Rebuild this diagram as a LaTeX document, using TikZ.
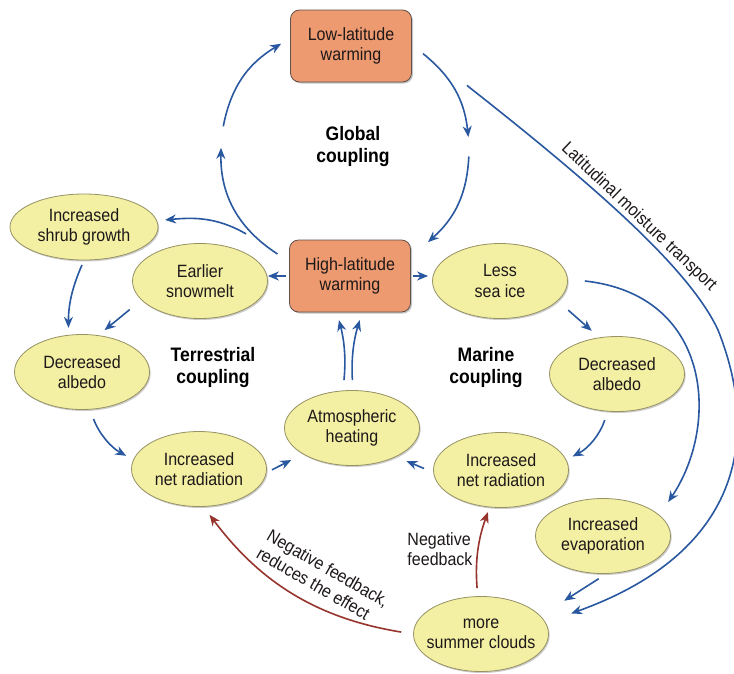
\documentclass[tikz,border=0pt]{standalone}
\usepackage{fontspec}
\setmainfont{Liberation Sans}[FakeStretch=0.9]
\usetikzlibrary{calc,shapes.geometric,shadows,arrows.meta,positioning}

\definecolor{warmfill}{RGB}{238,154,112}
\definecolor{warmline}{RGB}{95,80,75}
\definecolor{effectfill}{RGB}{243,239,163}
\definecolor{effectline}{RGB}{150,146,100}
\definecolor{flowblue}{RGB}{42,88,160}
\definecolor{dampred}{RGB}{150,52,45}
\definecolor{ink}{RGB}{30,25,25}

\tikzset{
  warmbox/.style={rectangle, rounded corners=9pt, draw=warmline, line width=0.8pt,
    fill=warmfill, minimum width=121pt, minimum height=72pt, align=center, text=ink,
    drop shadow={shadow xshift=1.5pt, shadow yshift=-1.5pt, opacity=0.45}},
  effect/.style={ellipse, draw=effectline, line width=0.8pt, fill=effectfill,
    minimum width=135pt, minimum height=75pt, inner xsep=-20pt, inner ysep=0pt,
    align=center, text=ink,
    drop shadow={shadow xshift=1.2pt, shadow yshift=-1.5pt, opacity=0.4}},
  coupling/.style={font=\fontsize{19.5}{22}\selectfont\bfseries, align=center, text=black},
  note/.style={text=ink, inner sep=1pt},
  flow/.style={draw=flowblue, line width=1.6pt, -{Stealth[length=11pt,width=9pt,inset=3.5pt]}},
  damp/.style={flow, draw=dampred}
}

\begin{document}
\begin{tikzpicture}[x=1pt, y=-1pt, font=\fontsize{17.8}{20.5}\selectfont]

\fill[white] (0,0) rectangle (734,673);
\useasboundingbox (0,0) rectangle (734,673);

\node[warmbox] (low) at (351,46) {Low-latitude\\warming};
\node[warmbox] (high) at (350,276) {High-latitude\\warming};

\node[coupling] (glabel) at (353,146) {Global\\coupling};
\node[coupling] (tlabel) at (213,367) {Terrestrial\\coupling};
\node[coupling] (mlabel) at (486,367) {Marine\\coupling};

\def\effects{snow/200/281/{Earlier\\snowmelt}, seaice/500/281/{Less\\sea ice},
  albL/82/372/{Decreased\\albedo}, albR/617/374/{Decreased\\albedo},
  atmo/352/428/{Atmospheric\\heating}, netL/199/469/{Increased\\net radiation},
  netR/501/470/{Increased\\net radiation}, evap/603/536/{Increased\\evaporation},
  clouds/481/634/{more\\summer clouds}}
\foreach \n / \x / \y / \t in \effects
  \node[effect] (\n) at (\x,\y) {\t};
\node[effect, minimum width=148pt, minimum height=66pt] (shrub) at (84,227) {Increased\\shrub growth};

% global coupling
\coordinate (glob) at (345,150);
\foreach \a / \b / \bend [count=\i] in {237/179/29, 169/121/24, 51/6/22.5, -3/-48/22.5} {
  \coordinate (gs\i) at ($(glob)+(\a:124pt)$);
  \coordinate (ge\i) at ($(glob)+(\b:124pt)$);
  \draw[flow] (gs\i) to[bend left=\bend] (ge\i);
}

% terrestrial coupling
\draw[flow, shorten <=3pt] (high.west) -- (high.west -| snow.east);
\draw[flow, shorten >=8pt] ([shift={(13pt,14pt)}]snow.45) to[out=150,in=5] (shrub.5);
\draw[flow, shorten <=5pt, shorten >=7pt] (shrub.south) to[bend right=12] (albL.110);
\draw[flow, shorten <=15pt, shorten >=8pt] (snow.198) -- (albL.66);
\draw[flow, shorten <=10pt, shorten >=8pt] (albL.-78) to[bend right=20] (netL.172);
\draw[flow, shorten <=6pt, shorten >=13pt] (netL.-3) -- (atmo.208);
\draw[flow, shorten <=10pt, shorten >=8pt] ([xshift=-9pt]atmo.north) to[bend right=10] ([xshift=-13pt]high.south);
\draw[flow, shorten <=10pt, shorten >=8pt] ([xshift=1pt]atmo.north) to[bend left=10] ([xshift=12pt]high.south);

% marine coupling
\draw[flow, shorten <=2pt, shorten >=4pt] (high.east) -- (high.east -| seaice.west);
\draw[flow, shorten <=14pt, shorten >=10pt] (seaice.-19) -- (albR.116);
\draw[flow] ([xshift=17pt]seaice.east) .. controls (712,295) and (720,425) .. ([shift={(14pt,9pt)}]evap.26);
\draw[flow, shorten <=9pt, shorten >=7pt] (albR.256) to[bend left=22] (netR.9.5);
\draw[flow, shorten <=10pt, shorten >=11pt] (netR.182) -- (atmo.-33);
\draw[flow, shorten <=9pt, shorten >=28pt] (evap.-85) -- (clouds.17);

\draw[flow, shorten >=27pt] ([xshift=55pt,yshift=-3pt]low.south east)
  .. controls (600,190) and (690,270) .. (718,330)
  node[midway, sloped, above, note] (moist) {Latitudinal moisture transport}
  .. controls (758,430) and (748,550) .. (clouds.10);

% feedbacks
\draw[damp, shorten <=8pt, shorten >=5pt] (clouds.95) to[bend left=12] (netR.253);
\node[note, align=left] (fbshort) at (440,549) {Negative\\feedback};
\draw[damp, shorten <=12pt, shorten >=10pt] (clouds.west) to[bend left=22] (netL.-83);
\node[note, align=left, rotate=-30] (fblong) at (323,577) {Negative feedback,\\reduces the effect};

\end{tikzpicture}
\end{document}
